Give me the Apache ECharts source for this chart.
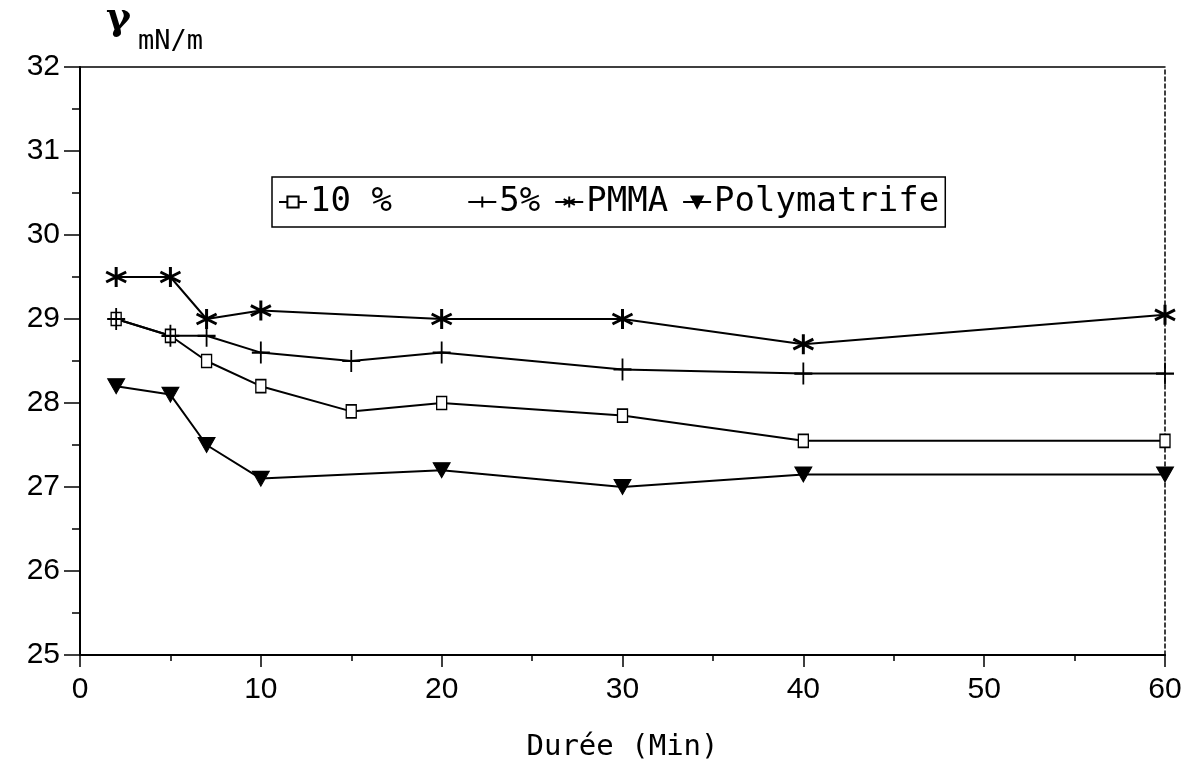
<!DOCTYPE html>
<html>
<head>
<meta charset="utf-8">
<script src="https://cdn.jsdelivr.net/npm/echarts@6/dist/echarts.min.js"></script>
<style>
html,body{margin:0;padding:0;background:#fff;}
#c{width:1194px;height:783px;}
</style>
</head>
<body>
<div id="c"></div>
<script>
// Data
var seriesNames = ['10 %', '5%', 'PMMA', 'Polymatrife'];
var xA = [2, 5, 7, 10, 15, 20, 30, 40, 60];
var xB = [2, 5, 7, 10, 20, 30, 40, 60];
var v10 = [29.0, 28.8, 28.5, 28.2, 27.9, 28.0, 27.85, 27.55, 27.55];
var v5 = [29.0, 28.8, 28.8, 28.6, 28.5, 28.6, 28.4, 28.35, 28.35];
var vPMMA = [29.5, 29.5, 29.0, 29.1, 29.0, 29.0, 28.7, 29.05];
var vPoly = [28.2, 28.1, 27.5, 27.1, 27.2, 27.0, 27.15, 27.15];
var xTicks = [0, 10, 20, 30, 40, 50, 60];
var yTicks = [25, 26, 27, 28, 29, 30, 31, 32];

function pairs(xs, vs) { return xs.map(function (x, i) { return [x, vs[i]]; }); }

var plusPath = 'path://M0,5 L10,5 M5,0 L5,10';
var starPath = 'path://M5,0 L5,10 M0.6,2.5 L9.4,7.5 M0.6,7.5 L9.4,2.5';
var triPath = 'path://M0,0 L10,0 L5,9 Z';

var mono = '"DejaVu Sans Mono", "Liberation Mono", monospace';
var sans = '"Liberation Sans", Arial, sans-serif';

var chart = echarts.init(document.getElementById('c'), null, {renderer: 'canvas'});

function lineSeries(name, data, symbol, size, itemStyle) {
  return {
    name: name, type: 'line', data: data,
    symbol: symbol, symbolSize: size,
    showAllSymbol: true,
    lineStyle: {color: '#000', width: 2},
    itemStyle: itemStyle,
    z: 3
  };
}

chart.setOption({
  backgroundColor: '#fff',
  animation: false,
  grid: {left: 80, right: 29, top: 67, bottom: 128, show: false},
  legend: {
    left: 272, top: 177,
    backgroundColor: '#fff',
    borderColor: '#000', borderWidth: 1.5, borderRadius: 0,
    padding: [8, 6, 8, 6],
    itemGap: 14,
    itemWidth: 28, itemHeight: 14,
    data: seriesNames,
    formatter: function (n) { return n === '10 %' ? n + '   ' : n; },
    textStyle: {fontFamily: mono, fontSize: 34, color: '#000', padding: [0, 0, 0, -2]}
  },
  xAxis: [{
    type: 'value', min: 0, max: 60, interval: 10,
    axisLine: {show: true, onZero: false, lineStyle: {color: '#000', width: 2}},
    axisTick: {show: true, inside: false, length: 12, lineStyle: {color: '#000', width: 1.5}},
    minorTick: {show: true, splitNumber: 2, length: 6, lineStyle: {color: '#000', width: 1.5}},
    splitLine: {show: false},
    axisLabel: {
      show: true, margin: 20, fontFamily: sans, fontSize: 30, color: '#000',
      formatter: function (v) { return xTicks.indexOf(v) >= 0 ? String(v) : ''; }
    },
    name: 'Durée (Min)', nameLocation: 'middle', nameGap: 78,
    nameTextStyle: {fontFamily: mono, fontSize: 29, color: '#000'}
  }, {
    type: 'value', min: 0, max: 60, position: 'top',
    axisLine: {show: true, onZero: false, lineStyle: {color: '#000', width: 1.5}},
    axisTick: {show: false}, axisLabel: {show: false}, splitLine: {show: false}
  }],
  yAxis: [{
    type: 'value', min: 25, max: 32, interval: 1,
    axisLine: {show: true, onZero: false, lineStyle: {color: '#000', width: 2}},
    axisTick: {show: true, inside: false, length: 16, lineStyle: {color: '#000', width: 1.5}},
    minorTick: {show: true, splitNumber: 2, length: 8, lineStyle: {color: '#000', width: 1.5}},
    splitLine: {show: false},
    axisLabel: {
      show: true, margin: 20, fontFamily: sans, fontSize: 30, color: '#000',
      formatter: function (v) { return yTicks.indexOf(v) >= 0 ? String(v) : ''; }
    }
  }, {
    type: 'value', min: 25, max: 32, position: 'right',
    axisLine: {show: true, onZero: false, lineStyle: {color: '#000', width: 1.5, type: [4, 3]}},
    axisTick: {show: false}, axisLabel: {show: false}, splitLine: {show: false}
  }],
  graphic: [{
    type: 'text', left: 106, top: 0,
    style: {text: 'γ', fontFamily: '"DejaVu Serif", serif', fontSize: 38, fontWeight: 'bold', fill: '#000'}
  }, {
    type: 'text', left: 138, top: 28,
    style: {text: 'mN/m', fontFamily: mono, fontSize: 27, fill: '#000'}
  }],
  series: [
    lineSeries('10 %', pairs(xA, v10), 'rect', [10, 13], {color: '#fff', borderColor: '#000', borderWidth: 1.5}),
    lineSeries('5%', pairs(xA, v5), plusPath, [18, 22], {color: '#000', borderColor: '#000', borderWidth: 2}),
    lineSeries('PMMA', pairs(xB, vPMMA), starPath, [20, 20], {color: '#000', borderColor: '#000', borderWidth: 3}),
    lineSeries('Polymatrife', pairs(xB, vPoly), triPath, [17, 15], {color: '#000', borderColor: '#000', borderWidth: 1})
  ]
});
</script>
</body>
</html>
